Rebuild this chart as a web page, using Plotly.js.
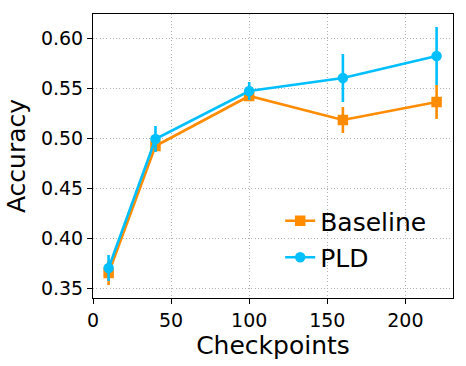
<!DOCTYPE html>
<html>
<head>
<meta charset="utf-8">
<script src="https://cdn.plot.ly/plotly-3.0.1.min.js"></script>
<style>
  body { margin: 0; }
  #chart { width: 466px; height: 366px; }
</style>
</head>
<body>
<div id="chart"></div>
<script>
const checkpoints = [10, 40, 100, 160, 220];
const baselineAcc = [0.365, 0.492, 0.542, 0.518, 0.536];
const baselineErr = [0.012, 0.006, 0.004, 0.013, 0.017];
const pldAcc = [0.370, 0.499, 0.547, 0.560, 0.582];
const pldErr = [0.013, 0.013, 0.009, 0.024, 0.029];

const font = 'DejaVu Sans, sans-serif';

function series(name, y, err, color, symbol) {
  return {
    x: checkpoints,
    y: y,
    name: name,
    legendgroup: name,
    type: 'scatter',
    mode: 'lines+markers',
    line: { color: color, width: 2.6 },
    marker: { color: color, symbol: symbol, size: 10.5 },
    error_y: { type: 'data', array: err, visible: true, color: color, thickness: 2.6, width: 0 }
  };
}

const traces = [
  series('Baseline', baselineAcc, baselineErr, '#FF8C00', 'square'),
  series('PLD', pldAcc, pldErr, '#00BFFF', 'circle')
];

const axisCommon = {
  showline: true,
  mirror: true,
  linecolor: 'black',
  linewidth: 1,
  ticks: 'outside',
  ticklen: 5,
  tickcolor: 'black',
  showgrid: true,
  gridcolor: '#b0b0b0',
  griddash: '1px,2.3px',
  gridwidth: 1,
  zeroline: false,
  tickfont: { family: font, size: 19, color: 'black' }
};

const layout = {
  width: 466,
  height: 366,
  margin: { l: 93, r: 13, t: 14, b: 68 },
  paper_bgcolor: 'white',
  plot_bgcolor: 'white',
  font: { family: font, color: 'black' },
  xaxis: Object.assign({}, axisCommon, {
    range: [0, 230.5],
    tickvals: [0, 50, 100, 150, 200],
    title: { text: 'Checkpoints', font: { family: font, size: 25 }, standoff: 0 }
  }),
  yaxis: Object.assign({}, axisCommon, {
    range: [0.340, 0.624],
    tickvals: [0.35, 0.40, 0.45, 0.50, 0.55, 0.60],
    tickformat: '.2f',
    title: { text: 'Accuracy', font: { family: font, size: 25 }, standoff: 8 }
  }),
  legend: {
    x: 0.52,
    y: 0.352,
    xanchor: 'left',
    yanchor: 'top',
    bgcolor: 'rgba(0,0,0,0)',
    font: { family: font, size: 25 },
    traceorder: 'grouped',
    tracegroupgap: 1
  },
  showlegend: true
};

Plotly.newPlot('chart', traces, layout, { displayModeBar: false, staticPlot: true });
</script>
</body>
</html>
